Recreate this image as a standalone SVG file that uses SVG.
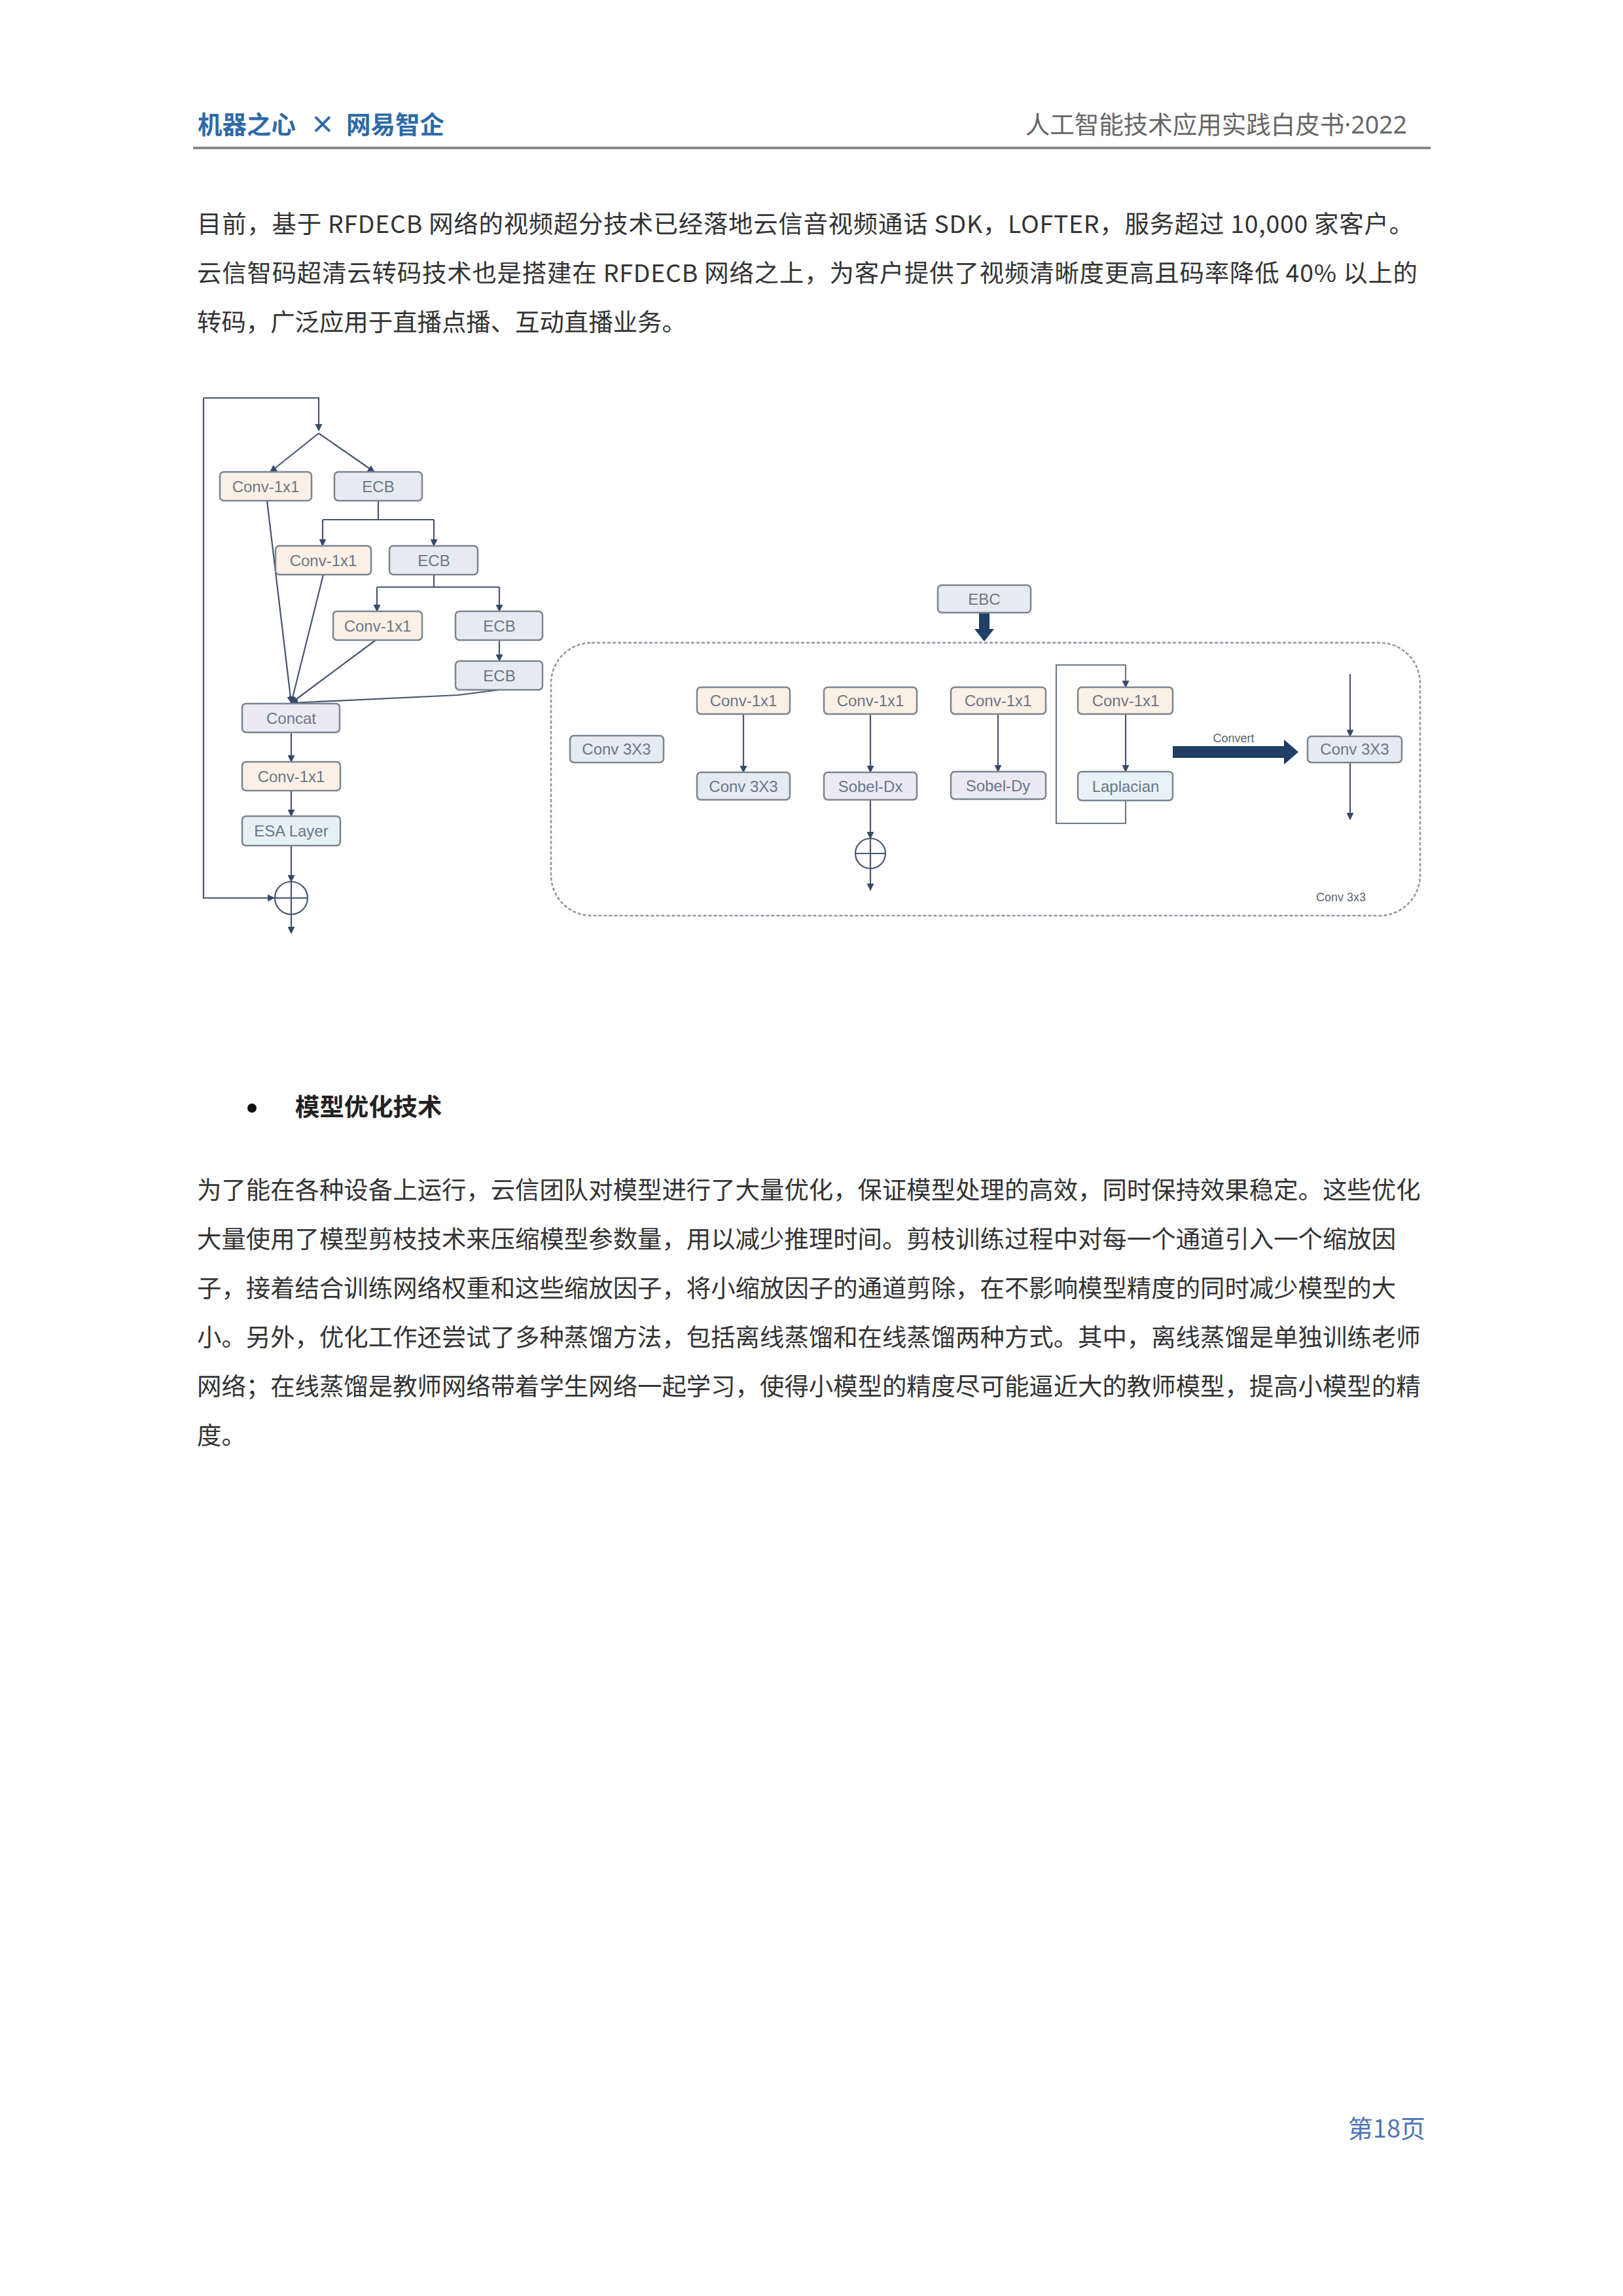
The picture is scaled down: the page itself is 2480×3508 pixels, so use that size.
<svg xmlns="http://www.w3.org/2000/svg" width="2480" height="3508" viewBox="0 0 2480 3508">
<style>
.bg{fill:#ffffff}
.cjk{font-family:"Noto Sans CJK SC","Noto Sans",sans-serif}
.body{font-size:37.4px;fill:#333333}
.hdl{font-size:37.5px;fill:#2f6aa6;font-weight:700}
.hdr{font-size:37.5px;fill:#666666}
.foot{font-size:38px;fill:#4f74b3}
.box{stroke:#7b8591;stroke-width:2.5}
.peach{fill:#fbf0e6}
.ecb{fill:#e7ebf1}
.lav{fill:#ebeaf4}
.esa{fill:#e6f1f6}
.lap{fill:#e7f3f6}
.c33{fill:#e5ebf3}
.lbl{font-family:"Liberation Sans","DejaVu Sans",sans-serif;font-size:24px;fill:#6b7684;text-anchor:middle}
.small{font-family:"Liberation Sans","DejaVu Sans",sans-serif;font-size:18px;fill:#5a6370;text-anchor:middle}
.ln{fill:none;stroke:#45566f;stroke-width:2.2}
.ln2{fill:none;stroke:#6f7a88;stroke-width:2.2}
.thick{fill:#1f3f66}
</style>
<defs>
<marker id="ah" viewBox="0 0 10 10" refX="9" refY="5" markerWidth="11" markerHeight="11" markerUnits="userSpaceOnUse" orient="auto">
<path d="M0,0 L10,5 L0,10 z" fill="#34496a"/>
</marker>
</defs>
<rect class="bg" x="0" y="0" width="2480" height="3508"/>

<!-- header -->
<g id="header">
<text class="cjk hdl" y="204"><tspan x="302">机器之心</tspan><tspan x="474">×</tspan><tspan x="529">网易智企</tspan></text>
<text class="cjk hdr" x="2150" y="204" text-anchor="end">人工智能技术应用实践白皮书<tspan font-family="Noto Sans, sans-serif">·2022</tspan></text>
<line x1="295" y1="226" x2="2186" y2="226" stroke="#8a8a8a" stroke-width="4"/>
</g>

<!-- paragraph 1 -->
<g id="para1" class="cjk body">
<text x="301" y="356" textLength="1859" lengthAdjust="spacing">目前，基于 RFDECB 网络的视频超分技术已经落地云信音视频通话 SDK，LOFTER，服务超过 10,000 家客户。</text>
<text x="301" y="431" textLength="1865" lengthAdjust="spacing">云信智码超清云转码技术也是搭建在 RFDECB 网络之上，为客户提供了视频清晰度更高且码率降低 40% 以上的</text>
<text x="301" y="506">转码，广泛应用于直播点播、互动直播业务。</text>
</g>

<!-- diagram connectors -->
<g id="connectors">
<path class="ln" d="M311,608 L487,608 L487,658" marker-end="url(#ah)"/>
<path class="ln" d="M311,608 L311,1372 L419,1372" marker-end="url(#ah)"/>
<path class="ln" d="M487,662 L413,721" marker-end="url(#ah)"/>
<path class="ln" d="M487,662 L572,721" marker-end="url(#ah)"/>
<path class="ln" d="M578,765 L578,794"/>
<path class="ln" d="M493,794 L663,794"/>
<path class="ln" d="M493,794 L493,834" marker-end="url(#ah)"/>
<path class="ln" d="M663,794 L663,834" marker-end="url(#ah)"/>
<path class="ln" d="M663,878 L663,897"/>
<path class="ln" d="M576,897 L763,897"/>
<path class="ln" d="M576,897 L576,934" marker-end="url(#ah)"/>
<path class="ln" d="M763,897 L763,934" marker-end="url(#ah)"/>
<path class="ln" d="M763,978 L763,1010" marker-end="url(#ah)"/>
<path class="ln" d="M408,765 L445,1074" marker-end="url(#ah)"/>
<path class="ln" d="M494,878 L445,1074" marker-end="url(#ah)"/>
<path class="ln" d="M574,978 L445,1074" marker-end="url(#ah)"/>
<path class="ln" d="M763,1054 L700,1062 L445,1074" marker-end="url(#ah)"/>
<path class="ln" d="M445,1119 L445,1164" marker-end="url(#ah)"/>
<path class="ln" d="M445,1208 L445,1247" marker-end="url(#ah)"/>
<path class="ln" d="M445,1292 L445,1347" marker-end="url(#ah)"/>
<path class="ln" d="M445,1397 L445,1426" marker-end="url(#ah)"/>
<!-- right block -->
<rect class="thick" x="1496" y="936" width="16" height="27"/>
<polygon class="thick" points="1489,961 1519,961 1504,980"/>
<path class="ln" d="M1136,1091 L1136,1180" marker-end="url(#ah)"/>
<path class="ln" d="M1330,1091 L1330,1180" marker-end="url(#ah)"/>
<path class="ln" d="M1330,1222 L1330,1281" marker-end="url(#ah)"/>
<path class="ln" d="M1330,1327 L1330,1360" marker-end="url(#ah)"/>
<path class="ln" d="M1525,1091 L1525,1179" marker-end="url(#ah)"/>
<path class="ln2" d="M1720,1223 L1720,1258 L1614,1258 L1614,1016 L1720,1016 L1720,1050" marker-end="url(#ah)"/>
<path class="ln" d="M1720,1091 L1720,1179" marker-end="url(#ah)"/>
<rect class="thick" x="1792" y="1140" width="172" height="18"/>
<polygon class="thick" points="1962,1130 1984,1149 1962,1168"/>
<path class="ln" d="M2063,1030 L2063,1125" marker-end="url(#ah)"/>
<path class="ln" d="M2063,1165 L2063,1252" marker-end="url(#ah)"/>
</g>

<!-- left block nodes -->
<g id="n_conv1a"><rect class="box peach" x="336" y="721" width="140" height="44" rx="6"/><text class="lbl" x="406" y="752">Conv-1x1</text></g>
<g id="n_ecb1"><rect class="box ecb" x="511" y="721" width="134" height="44" rx="6"/><text class="lbl" x="578" y="752">ECB</text></g>
<g id="n_conv1b"><rect class="box peach" x="421" y="834" width="146" height="44" rx="6"/><text class="lbl" x="494" y="865">Conv-1x1</text></g>
<g id="n_ecb2"><rect class="box ecb" x="595" y="834" width="135" height="44" rx="6"/><text class="lbl" x="663" y="865">ECB</text></g>
<g id="n_conv1c"><rect class="box peach" x="509" y="934" width="136" height="44" rx="6"/><text class="lbl" x="577" y="965">Conv-1x1</text></g>
<g id="n_ecb3"><rect class="box ecb" x="696" y="934" width="133" height="44" rx="6"/><text class="lbl" x="763" y="965">ECB</text></g>
<g id="n_ecb4"><rect class="box ecb" x="696" y="1010" width="133" height="44" rx="6"/><text class="lbl" x="763" y="1041">ECB</text></g>
<g id="n_concat"><rect class="box lav" x="370" y="1075" width="149" height="44" rx="6"/><text class="lbl" x="445" y="1106">Concat</text></g>
<g id="n_conv1d"><rect class="box peach" x="370" y="1164" width="150" height="44" rx="6"/><text class="lbl" x="445" y="1195">Conv-1x1</text></g>
<g id="n_esa"><rect class="box esa" x="370" y="1247" width="150" height="45" rx="6"/><text class="lbl" x="445" y="1278">ESA Layer</text></g>
<g id="n_add1"><circle cx="445" cy="1372" r="25" fill="none" stroke="#45566f" stroke-width="2.2"/><line x1="420" y1="1372" x2="470" y2="1372" stroke="#45566f" stroke-width="2.2"/><line x1="445" y1="1347" x2="445" y2="1397" stroke="#45566f" stroke-width="2.2"/></g>

<!-- right block nodes -->
<g id="n_ebc"><rect class="box ecb" x="1433" y="894" width="142" height="42" rx="6"/><text class="lbl" x="1504" y="924">EBC</text></g>
<g id="n_container"><rect x="842" y="982" width="1328" height="417" rx="62" fill="none" stroke="#8d96a0" stroke-width="2.5" stroke-dasharray="5 3"/><text class="small" x="2049" y="1377">Conv 3x3</text></g>
<g id="n_conv33a"><rect class="box c33" x="871" y="1124" width="143" height="41" rx="6"/><text class="lbl" x="942" y="1153">Conv 3X3</text></g>
<g id="n_c1a"><rect class="box peach" x="1065" y="1050" width="142" height="41" rx="6"/><text class="lbl" x="1136" y="1079">Conv-1x1</text></g>
<g id="n_c1b"><rect class="box c33" x="1065" y="1180" width="142" height="42" rx="6"/><text class="lbl" x="1136" y="1210">Conv 3X3</text></g>
<g id="n_c2a"><rect class="box peach" x="1259" y="1050" width="142" height="41" rx="6"/><text class="lbl" x="1330" y="1079">Conv-1x1</text></g>
<g id="n_c2b"><rect class="box lav" x="1259" y="1180" width="142" height="42" rx="6"/><text class="lbl" x="1330" y="1210">Sobel-Dx</text></g>
<g id="n_add2"><circle cx="1330" cy="1304" r="23" fill="none" stroke="#45566f" stroke-width="2.2"/><line x1="1307" y1="1304" x2="1353" y2="1304" stroke="#45566f" stroke-width="2.2"/><line x1="1330" y1="1281" x2="1330" y2="1327" stroke="#45566f" stroke-width="2.2"/></g>
<g id="n_c3a"><rect class="box peach" x="1453" y="1050" width="145" height="41" rx="6"/><text class="lbl" x="1525" y="1079">Conv-1x1</text></g>
<g id="n_c3b"><rect class="box lav" x="1453" y="1179" width="145" height="42" rx="6"/><text class="lbl" x="1525" y="1209">Sobel-Dy</text></g>
<g id="n_c4a"><rect class="box peach" x="1647" y="1050" width="145" height="41" rx="6"/><text class="lbl" x="1720" y="1079">Conv-1x1</text></g>
<g id="n_c4b"><rect class="box lap" x="1647" y="1179" width="145" height="44" rx="6"/><text class="lbl" x="1720" y="1210">Laplacian</text></g>
<g id="n_convert"><text class="small" x="1885" y="1134">Convert</text></g>
<g id="n_conv33b"><rect class="box c33" x="1998" y="1125" width="144" height="40" rx="6"/><text class="lbl" x="2070" y="1153">Conv 3X3</text></g>

<!-- section 2 -->
<g id="bullet" class="cjk">
<circle cx="385" cy="1693" r="7" fill="#111111"/>
<text x="451" y="1705" font-size="37.4" font-weight="700" fill="#222222">模型优化技术</text>
</g>
<g id="para2" class="cjk body">
<text x="301" y="1832">为了能在各种设备上运行，云信团队对模型进行了大量优化，保证模型处理的高效，同时保持效果稳定。这些优化</text>
<text x="301" y="1907">大量使用了模型剪枝技术来压缩模型参数量，用以减少推理时间。剪枝训练过程中对每一个通道引入一个缩放因</text>
<text x="301" y="1982">子，接着结合训练网络权重和这些缩放因子，将小缩放因子的通道剪除，在不影响模型精度的同时减少模型的大</text>
<text x="301" y="2057">小。另外，优化工作还尝试了多种蒸馏方法，包括离线蒸馏和在线蒸馏两种方式。其中，离线蒸馏是单独训练老师</text>
<text x="301" y="2132">网络；在线蒸馏是教师网络带着学生网络一起学习，使得小模型的精度尽可能逼近大的教师模型，提高小模型的精</text>
<text x="301" y="2207">度。</text>
</g>

<g id="footer"><text class="cjk foot" x="2178" y="3266" text-anchor="end">第18页</text></g>
</svg>
